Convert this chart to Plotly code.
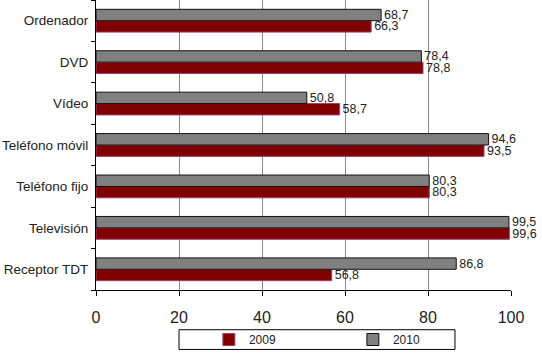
import plotly.graph_objects as go

categories = ["Ordenador", "DVD", "Vídeo", "Teléfono móvil", "Teléfono fijo", "Televisión", "Receptor TDT"]
values_2009 = [66.3, 78.8, 58.7, 93.5, 80.3, 99.6, 56.8]
values_2010 = [68.7, 78.4, 50.8, 94.6, 80.3, 99.5, 86.8]
x_ticks = [0, 20, 40, 60, 80, 100]

# bottom-to-top order for plotly category axis
cats = categories[::-1]
v09 = values_2009[::-1]
v10 = values_2010[::-1]

def fmt(v):
    return f"{v:.1f}".replace(".", ",")

FONT = "Liberation Sans, Arial"

fig = go.Figure()
fig.add_trace(go.Bar(
    y=cats, x=v09, name="2009", orientation="h",
    marker=dict(color="#800000", line=dict(color="#a0406a", width=1)),
    text=[fmt(v) for v in v09], textposition="outside", cliponaxis=False,
    constraintext="none",
    textfont=dict(family=FONT, size=12.5, color="#222"),
))
fig.add_trace(go.Bar(
    y=cats, x=v10, name="2010", orientation="h",
    marker=dict(color="#808080", line=dict(color="#111", width=1)),
    text=[fmt(v) for v in v10], textposition="outside", cliponaxis=False,
    constraintext="none",
    textfont=dict(family=FONT, size=12.5, color="#222"),
))

# legend frame (pixel-derived paper coords)
fig.add_shape(type="rect", xref="paper", yref="paper",
              x0=0.2, x1=0.865, y0=-0.137, y1=-0.205,
              line=dict(color="black", width=1), fillcolor="white", layer="below")

fig.update_layout(
    width=542, height=354,
    margin=dict(l=96, r=31, t=0, b=62),
    barmode="group", bargap=0.45, bargroupgap=0,
    plot_bgcolor="white", paper_bgcolor="white",
    font=dict(family=FONT, size=12, color="#222"),
    xaxis=dict(range=[0, 100], tickvals=x_ticks, ticktext=[str(t) for t in x_ticks],
               showgrid=True, gridcolor="#8a8a8a", gridwidth=1,
               showline=True, linecolor="black", linewidth=1,
               ticks="outside", ticklen=5, tickcolor="black", ticklabelstandoff=8,
               tickfont=dict(size=16, color="#222"), zeroline=False),
    yaxis=dict(showline=True, linecolor="black", linewidth=1,
               ticks="outside", ticklen=4, tickcolor="black", tickson="boundaries",
               ticklabelstandoff=4,
               tickfont=dict(size=13.5, color="#222"), showgrid=False,
               range=[-0.5, 6.5]),
    legend=dict(orientation="h", x=0.272, xanchor="left", y=-0.171, yanchor="middle",
                borderwidth=0, bgcolor="rgba(0,0,0,0)",
                font=dict(size=12, color="#222"),
                entrywidth=99, entrywidthmode="pixels",
                itemwidth=30, tracegroupgap=0),
    showlegend=True,
)

fig.write_html("out.html")
